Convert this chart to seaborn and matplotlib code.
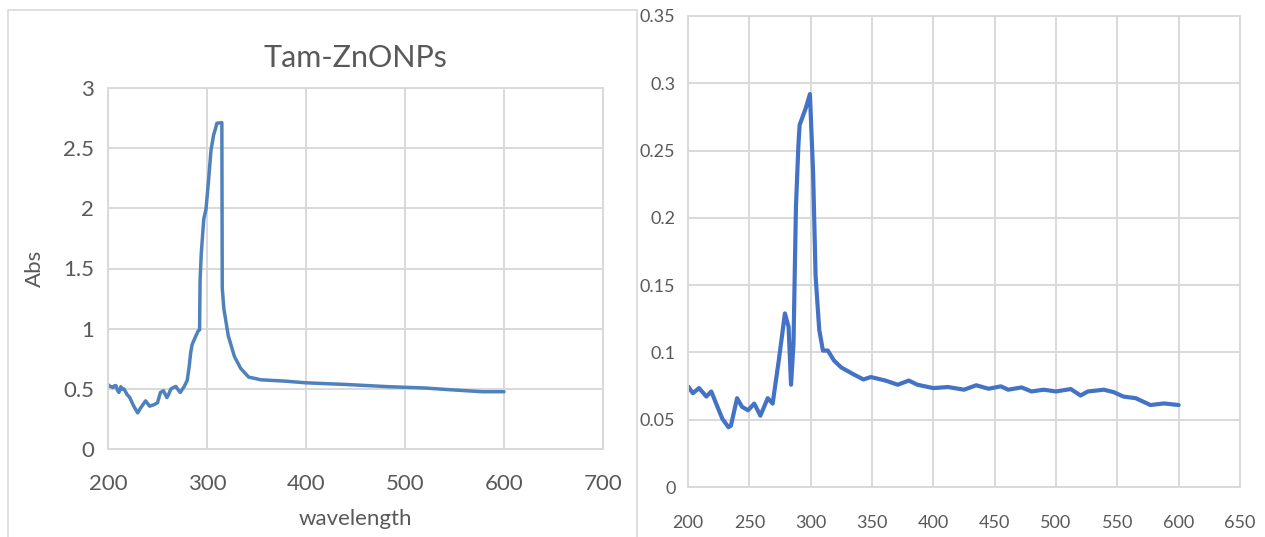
import matplotlib
matplotlib.use("Agg")
import matplotlib.pyplot as plt
from matplotlib.patches import Rectangle
import seaborn as sns
import pandas as pd

# Tam-ZnONPs absorbance spectrum
tam_wavelength = [200, 202, 203.7, 205, 206.5, 208, 209.5, 211, 213, 214.5, 216, 217.5, 219, 222,
                  226, 230, 233, 238, 242, 247, 250, 253, 256, 259.5, 261, 263.6, 266, 268.6,
                  271, 273, 277, 280, 282, 283.5, 285, 288, 291, 292.5, 293, 294.2, 296.7, 299,
                  301.6, 304, 306.6, 308.5, 310, 315, 315.4, 317, 321.5, 327.7, 334, 342, 354.5,
                  379, 400, 441, 483, 520, 544.6, 578, 600]
tam_abs = [0.535, 0.52, 0.518, 0.51, 0.525, 0.527, 0.49, 0.47, 0.518, 0.495, 0.5, 0.48, 0.456,
           0.427, 0.356, 0.30, 0.342, 0.40, 0.356, 0.37, 0.385, 0.47, 0.484, 0.427, 0.45, 0.50,
           0.51, 0.52, 0.49, 0.47, 0.52, 0.57, 0.684, 0.80, 0.869, 0.926, 0.98, 0.99, 1.396,
           1.624, 1.909, 1.994, 2.236, 2.48, 2.607, 2.66, 2.707, 2.712, 1.339, 1.168, 0.94,
           0.769, 0.67, 0.598, 0.575, 0.564, 0.55, 0.536, 0.518, 0.507, 0.493, 0.476, 0.476]

# Second spectrum
b_wavelength = [200, 204, 209, 215, 219, 224, 228, 233, 235, 240, 244, 249, 254, 259, 265, 269,
                274, 279, 282, 284, 286, 288, 290, 291, 296, 299.4, 302, 304, 307, 310, 314, 319,
                325, 335, 343, 349, 361, 371, 380, 387, 400, 412, 425, 435, 445, 455, 461, 472,
                480, 490, 500, 512, 520, 526, 539, 547, 555, 565, 577, 588, 600]
b_abs = [0.0748, 0.0697, 0.0735, 0.0672, 0.071, 0.0596, 0.0507, 0.0444, 0.0456, 0.066, 0.0596,
         0.057, 0.062, 0.053, 0.066, 0.062, 0.094, 0.129, 0.119, 0.076, 0.1065, 0.208, 0.254,
         0.269, 0.2815, 0.292, 0.233, 0.157, 0.1167, 0.1014, 0.1014, 0.094, 0.0888, 0.0837,
         0.0799, 0.0817, 0.0791, 0.076, 0.0791, 0.076, 0.0735, 0.0743, 0.0723, 0.0756, 0.073,
         0.0748, 0.0723, 0.074, 0.071, 0.0723, 0.071, 0.0728, 0.068, 0.071, 0.0723, 0.0705,
         0.0672, 0.066, 0.0609, 0.0621, 0.0609]

left_xticks = [200, 300, 400, 500, 600, 700]
left_yticks = [0, 0.5, 1, 1.5, 2, 2.5, 3]
right_xticks = [200, 250, 300, 350, 400, 450, 500, 550, 600, 650]
right_yticks = [0, 0.05, 0.1, 0.15, 0.2, 0.25, 0.3, 0.35]

sns.set_style("white")
plt.rcParams["font.family"] = ["Lato", "DejaVu Sans"]

GRID = "#d9d9d9"
TEXT = "#595959"

fig = plt.figure(figsize=(12.65, 5.37), dpi=100)

# outer frame of the first chart
fig.patches.append(Rectangle((8 / 1265, -0.05), (637 - 8) / 1265, 1.05 - 10 / 537,
                             transform=fig.transFigure, fill=False, edgecolor=GRID,
                             linewidth=1.2))

ax1 = fig.add_axes([108 / 1265, 1 - 449 / 537, (603 - 108) / 1265, (449 - 88) / 537])
ax2 = fig.add_axes([688 / 1265, 1 - 487 / 537, (1240 - 688) / 1265, (487 - 16) / 537])

df1 = pd.DataFrame({"wavelength": tam_wavelength, "Abs": tam_abs})
df2 = pd.DataFrame({"wavelength": b_wavelength, "Abs": b_abs})

sns.lineplot(data=df1, x="wavelength", y="Abs", ax=ax1, color="#4F81BD", linewidth=2.5,
             sort=False)
sns.lineplot(data=df2, x="wavelength", y="Abs", ax=ax2, color="#4472C4", linewidth=3.0,
             sort=False)

ax1.set_xlim(200, 700)
ax1.set_ylim(0, 3)
ax1.set_xticks(left_xticks)
ax1.set_yticks(left_yticks)
ax1.set_yticklabels(["0", "0.5", "1", "1.5", "2", "2.5", "3"])
ax1.set_title("Tam-ZnONPs", fontsize=22, color=TEXT, pad=15)
ax1.set_xlabel("wavelength", fontsize=16, color=TEXT, labelpad=11)
ax1.set_ylabel("Abs", fontsize=16, color=TEXT, labelpad=13)
ax1.tick_params(axis="both", labelsize=16, colors=TEXT, length=0)
ax1.tick_params(axis="x", pad=18)
ax1.tick_params(axis="y", pad=10)

ax2.set_xlim(200, 650)
ax2.set_ylim(0, 0.35)
ax2.set_xticks(right_xticks)
ax2.set_yticks(right_yticks)
ax2.set_yticklabels(["0", "0.05", "0.1", "0.15", "0.2", "0.25", "0.3", "0.35"])
ax2.set_xlabel("")
ax2.set_ylabel("")
ax2.tick_params(axis="both", labelsize=13, colors=TEXT, length=0)
ax2.tick_params(axis="x", pad=20)
ax2.tick_params(axis="y", pad=9)

for ax in (ax1, ax2):
    ax.grid(True, color=GRID, linewidth=1.4)
    ax.set_axisbelow(True)
    for side, sp in ax.spines.items():
        sp.set_color(GRID)
        sp.set_linewidth(1.4)

fig.savefig("out.png", dpi=100)
